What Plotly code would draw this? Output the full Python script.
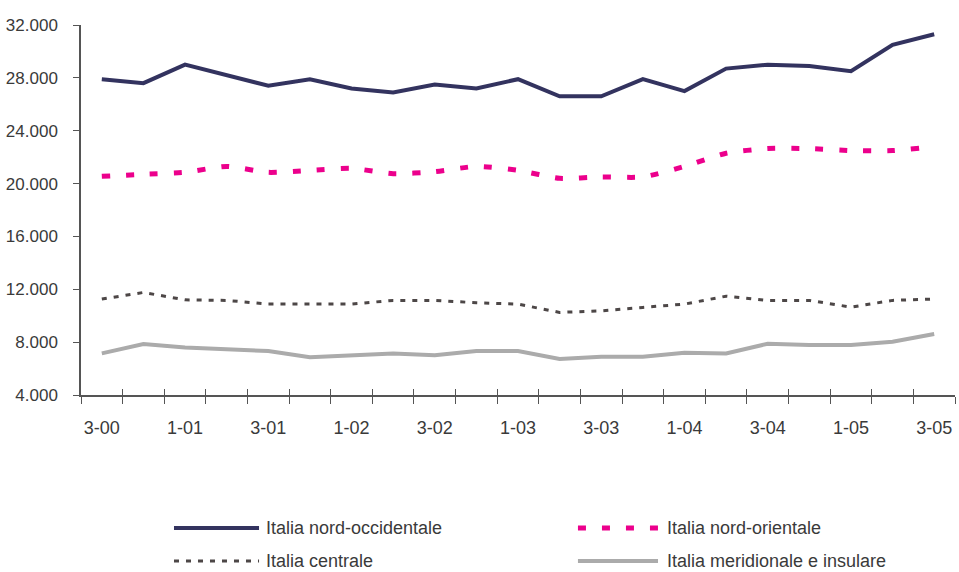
import plotly.graph_objects as go

# Quarterly series (thousands of units), Q3 2000 - Q3 2005
quarters = ["3-00", "4-00", "1-01", "2-01", "3-01", "4-01", "1-02", "2-02", "3-02",
            "4-02", "1-03", "2-03", "3-03", "4-03", "1-04", "2-04", "3-04", "4-04",
            "1-05", "2-05", "3-05"]

nord_occidentale = [27.9, 27.6, 29.0, 28.2, 27.4, 27.9, 27.2, 26.9, 27.5, 27.2, 27.9,
                    26.6, 26.6, 27.9, 27.0, 28.7, 29.0, 28.9, 28.5, 30.5, 31.3]
nord_orientale = [20.55, 20.7, 20.85, 21.3, 20.85, 21.0, 21.15, 20.75, 20.9, 21.3, 21.0,
                  20.4, 20.5, 20.5, 21.3, 22.3, 22.65, 22.65, 22.5, 22.5, 22.8]
centrale = [11.26, 11.76, 11.2, 11.16, 10.88, 10.88, 10.88, 11.16, 11.16, 10.98, 10.88,
            10.25, 10.37, 10.63, 10.88, 11.48, 11.16, 11.16, 10.65, 11.16, 11.26]
meridionale = [7.15, 7.85, 7.6, 7.48, 7.33, 6.85, 7.02, 7.15, 7.0, 7.33, 7.33,
               6.72, 6.9, 6.9, 7.2, 7.15, 7.88, 7.78, 7.78, 8.03, 8.61]

series_names = ["Italia nord-occidentale", "Italia nord-orientale",
                "Italia centrale", "Italia meridionale e insulare"]

y_ticks = [4000, 8000, 12000, 16000, 20000, 24000, 28000, 32000]

FONT = "Liberation Sans, Arial, sans-serif"
TEXT = "#3a3a3a"
AXIS = "#555555"

x_idx = list(range(len(quarters)))
label_idx = x_idx[::2]
label_txt = quarters[::2]
boundaries = [i - 0.5 for i in range(len(quarters) + 1)]

styles = [
    dict(color="#33335f", width=4, dash="solid", shape="linear"),
    dict(color="#ec008c", width=5, dash="8px,16px", shape="spline"),
    dict(color="#4d4747", width=3, dash="5px,7px", shape="linear"),
    dict(color="#ababab", width=4, dash="solid", shape="linear"),
]
values = [nord_occidentale, nord_orientale, centrale, meridionale]

fig = go.Figure()
for name, vals, st in zip(series_names, values, styles):
    fig.add_trace(go.Scatter(
        x=x_idx, y=[v * 1000 for v in vals], mode="lines", name=name,
        line=dict(color=st["color"], width=st["width"], dash=st["dash"],
                  shape=st["shape"], smoothing=0.6),
        showlegend=False, hoverinfo="skip",
    ))

# Transparent copy on the overlay axis so its inward tick marks get drawn
fig.add_trace(go.Scatter(
    x=x_idx, y=[v * 1000 for v in meridionale], xaxis="x2", mode="lines",
    line=dict(width=0), opacity=0, showlegend=False, hoverinfo="skip",
))

# Hand-built two-column legend below the plot
legend_pos = [(0.1064, 0.2037, 0.2094, -0.3595),
              (0.5686, 0.6602, 0.6682, -0.3595),
              (0.1064, 0.2037, 0.2094, -0.4486),
              (0.5686, 0.6602, 0.6682, -0.4486)]
shapes = []
annotations = []
for name, st, (x0, x1, xt, yy) in zip(series_names, styles, legend_pos):
    shapes.append(dict(type="line", xref="paper", yref="paper", x0=x0, x1=x1, y0=yy, y1=yy,
                       line=dict(color=st["color"], width=st["width"], dash=st["dash"])))
    annotations.append(dict(text=name, xref="paper", yref="paper", x=xt, y=yy,
                            xanchor="left", yanchor="middle", showarrow=False,
                            font=dict(family=FONT, size=18, color=TEXT)))

fig.update_layout(
    width=959, height=572,
    margin=dict(l=81, r=4, t=25, b=177),
    paper_bgcolor="white", plot_bgcolor="white",
    separators=",.",
    font=dict(family=FONT, size=18, color=TEXT),
    shapes=shapes, annotations=annotations,
    xaxis=dict(
        range=[-0.5, len(quarters) - 0.5], tickmode="array",
        tickvals=label_idx, ticktext=label_txt, ticks="",
        showline=True, linecolor=AXIS, linewidth=1.5, showgrid=False, zeroline=False,
        ticklabelstandoff=16, tickfont=dict(size=18),
        minor=dict(tickmode="array", tickvals=boundaries, ticks="outside",
                   ticklen=7, tickwidth=1.2, tickcolor=AXIS, showgrid=False),
    ),
    xaxis2=dict(
        range=[-0.5, len(quarters) - 0.5], overlaying="x", anchor="y", side="bottom",
        tickmode="array", tickvals=boundaries, ticks="inside", ticklen=6,
        tickwidth=1.2, tickcolor=AXIS, showticklabels=False, showgrid=False,
        zeroline=False, showline=False,
    ),
    yaxis=dict(
        range=[4000, 32000], tickmode="array", tickvals=y_ticks, tickformat=",d",
        ticks="outside", ticklen=6, tickwidth=1.2, tickcolor=AXIS,
        showline=True, linecolor=AXIS, linewidth=1.5, showgrid=False, zeroline=False,
        ticklabelstandoff=12, tickfont=dict(size=17),
    ),
)

fig.write_html("out.html")
